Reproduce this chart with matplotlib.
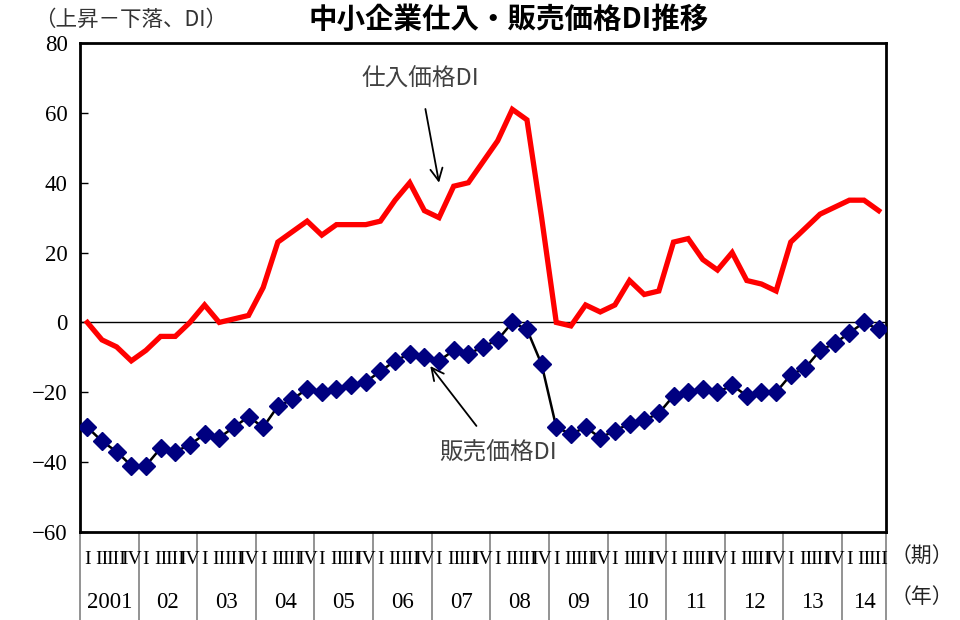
import matplotlib
matplotlib.use("Agg")
import matplotlib.pyplot as plt
from matplotlib.transforms import blended_transform_factory
import numpy as np

years = ["2001", "02", "03", "04", "05", "06", "07", "08", "09", "10", "11", "12", "13", "14"]
quarters = ["I", "II", "III", "IV"]

purchase_di = [0, -5, -7, -11,
               -8, -4, -4, 0,
               5, 0, 1, 2,
               10, 23, 26, 29,
               25, 28, 28, 28,
               29, 35, 40, 32,
               30, 39, 40, 46,
               52, 61, 58, 30,
               0, -1, 5, 3,
               5, 12, 8, 9,
               23, 24, 18, 15,
               20, 12, 11, 9,
               23, 27, 31, 33,
               35, 35, 32]
sales_di = [-30, -34, -37, -41,
            -41, -36, -37, -35,
            -32, -33, -30, -27,
            -30, -24, -22, -19,
            -20, -19, -18, -17,
            -14, -11, -9, -10,
            -11, -8, -9, -7,
            -5, 0, -2, -12,
            -30, -32, -30, -33,
            -31, -29, -28, -26,
            -21, -20, -19, -20,
            -18, -21, -20, -20,
            -15, -13, -8, -6,
            -3, 0, -2]

title = "中小企業仕入・販売価格DI推移"
ylabel = "（上昇－下落、DI）"
label_purchase = "仕入価格DI"
label_sales = "販売価格DI"

jp = ["Noto Sans CJK JP", "DejaVu Sans"]
serif = ["Liberation Serif", "DejaVu Serif"]

fig = plt.figure(figsize=(9.6, 6.2), dpi=100)
ax = fig.add_axes([80/960, (620-532)/620, 806/960, 489/620])

x = np.arange(len(purchase_di))
ax.plot(x, purchase_di, color="#ff0000", lw=3.8, solid_joinstyle="miter", zorder=3)
ax.plot(x, sales_di, color="black", lw=1.8, marker="D", markersize=9,
        markerfacecolor="#000080", markeredgecolor="#000080", zorder=4)
ax.axhline(0, color="black", lw=1, zorder=2)

ax.set_xlim(-0.5, len(x) - 0.5)
ax.set_ylim(-60, 80)
ax.set_yticks(np.arange(-60, 81, 20))
ax.set_xticks([])
ax.tick_params(axis="y", direction="in", length=6, width=1, labelsize=16.5, pad=9)
for lab in ax.get_yticklabels():
    lab.set_fontfamily(serif)
for s in ax.spines.values():
    s.set_linewidth(2)
    s.set_color("black")

# x-axis labels
tr = blended_transform_factory(ax.transData, ax.transAxes)
n_years = len(years)
bounds = [-0.5 + 4 * k for k in range(n_years)] + [len(x) - 0.5]
for b in bounds:
    ax.plot([b, b], [0, -0.185], transform=tr, color="#808080", lw=1.2, clip_on=False)
for i in range(len(x)):
    ax.text(i, -0.057, quarters[i % 4], transform=tr, ha="center", va="center",
            fontsize=14, fontfamily=serif)
for k, y in enumerate(years):
    start = bounds[k]
    end = bounds[k + 1]
    ax.text((start + end) / 2, -0.145, y, transform=tr, ha="center", va="center",
            fontsize=16.5, fontfamily=serif)

fig.text(922/960, 1 - 557/620, "（期）", ha="center", va="center", fontsize=15, fontfamily=jp, color="#222222")
fig.text(922/960, 1 - 597/620, "（年）", ha="center", va="center", fontsize=15, fontfamily=jp, color="#222222")

fig.text(509/960, 1 - 20/620, title, ha="center", va="center", fontsize=20.5,
         fontfamily=jp, fontweight="bold")
fig.text(131/960, 1 - 20/620, ylabel, ha="center", va="center", fontsize=15.5,
         fontfamily=jp, color="#333333")

# annotations
ax.annotate(label_purchase, xy=(24.0, 40), xytext=(22.7, 69.5), ha="center", va="center",
            fontsize=17, fontfamily=jp, color="#404040",
            arrowprops=dict(arrowstyle="->", color="black", lw=1.3,
                            shrinkA=11, shrinkB=0, mutation_scale=22))
ax.annotate(label_sales, xy=(23.4, -12.5), xytext=(28.0, -37.5), ha="center", va="center",
            fontsize=17, fontfamily=jp, color="#404040",
            arrowprops=dict(arrowstyle="->", color="black", lw=1.3,
                            shrinkA=12, shrinkB=0, mutation_scale=22))

fig.savefig("out.png", dpi=100)
